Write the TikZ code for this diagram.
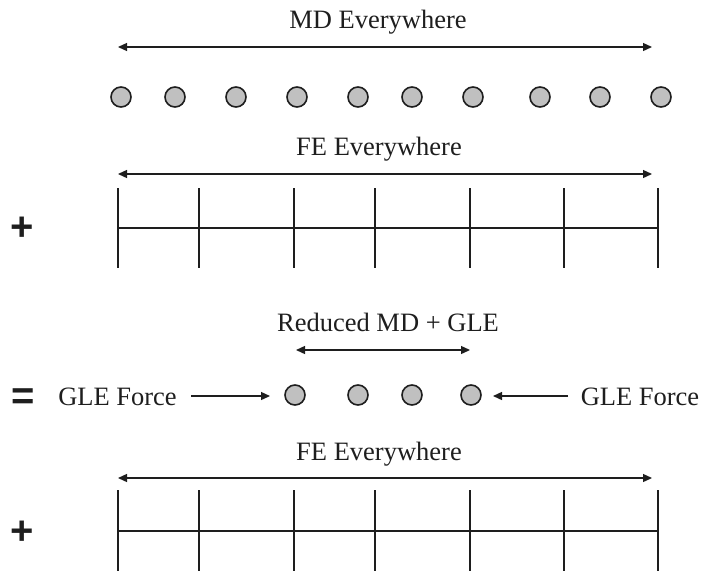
\documentclass[tikz,border=0pt]{standalone}
\usepackage{fontspec}
\setmainfont{Liberation Serif}
\newfontfamily\symfont{Liberation Sans}
\usetikzlibrary{arrows.meta}
\definecolor{atomgray}{RGB}{192,192,192}
\definecolor{inkc}{RGB}{30,30,30}
\tikzset{
  lbl/.style={anchor=base,inner sep=0pt,font=\fontsize{26.5}{30}\selectfont,text=inkc},
  opsym/.style={anchor=base,inner sep=0pt,font=\symfont\bfseries\fontsize{40}{44}\selectfont,text=inkc},
  atom/.style={circle,draw=inkc,line width=1.6pt,fill=atomgray,minimum size=20pt,inner sep=0pt},
  span/.style={{Triangle[length=9pt,width=8pt]}-{Triangle[length=9pt,width=8pt]},line width=1.3pt,draw=inkc},
  push/.style={-{Triangle[length=9pt,width=8pt]},line width=1.3pt,draw=inkc},
  gridl/.style={line width=1.4pt,draw=inkc}
}
\begin{document}
\begin{tikzpicture}[x=1pt,y=-1pt]
\useasboundingbox (0,0) rectangle (704,571);
% --- MD everywhere
\node[lbl] (mdlbl) at (378,28) {MD Everywhere};
\coordinate (mdL) at (118,47);
\coordinate (mdR) at (652,47);
\draw[span] (mdL) -- (mdR);
\foreach \i/\x in {1/121,2/175,3/236,4/297,5/358,6/412,7/473,8/540,9/600,10/661}
  \node[atom] (a\i) at (\x,97) {};
% --- FE everywhere (top)
\node[opsym] (plus1) at (22,240) {+};
\node[lbl] (fe1lbl) at (379,155) {FE Everywhere};
\coordinate (fe1L) at (118,174);
\coordinate (fe1R) at (652,174);
\draw[span] (fe1L) -- (fe1R);
\draw[gridl] (118,228) -- (658,228);
\foreach \x in {118,199,294,375,470,564,658}
  \draw[gridl] (\x,188) -- (\x,268);
% --- Reduced MD + GLE
\node[lbl] (redlbl) at (388,331) {Reduced MD + GLE};
\coordinate (redL) at (296,350);
\coordinate (redR) at (470,350);
\draw[span] (redL) -- (redR);
\node[opsym] (eq) at (23,409) {=};
\node[lbl] (gleL) at (117.5,405) {GLE Force};
\node[lbl] (gleR) at (640,405) {GLE Force};
\foreach \i/\x in {1/295,2/358,3/412,4/471}
  \node[atom] (b\i) at (\x,395) {};
\coordinate (glLs) at (191,396);
\coordinate (glLe) at (270,396);
\coordinate (glRs) at (568,396);
\coordinate (glRe) at (493,396);
\draw[push] (glLs) -- (glLe);
\draw[push] (glRs) -- (glRe);
% --- FE everywhere (bottom)
\node[opsym] (plus2) at (22,544) {+};
\node[lbl] (fe2lbl) at (379,460) {FE Everywhere};
\coordinate (fe2L) at (118,478);
\coordinate (fe2R) at (652,478);
\draw[span] (fe2L) -- (fe2R);
\draw[gridl] (118,531) -- (658,531);
\foreach \x in {118,199,294,375,470,564,658}
  \draw[gridl] (\x,490) -- (\x,571);
\end{tikzpicture}
\end{document}
